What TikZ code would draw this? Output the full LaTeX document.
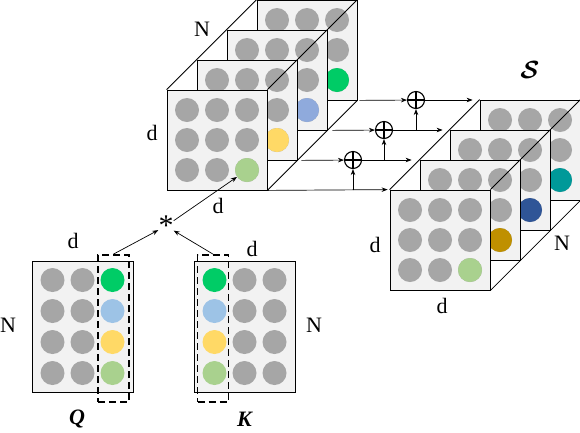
\documentclass[tikz,border=0pt]{standalone}
\usepackage{fontspec}
\setmainfont{Liberation Serif}
\usepackage{amsmath}
\usepackage{bm}
\usetikzlibrary{arrows.meta, positioning}
\definecolor{slicefill}{HTML}{F2F2F2}
\definecolor{dotgray}{HTML}{A6A6A6}
\definecolor{dotgreen}{HTML}{00CC66}
\definecolor{dotlblue}{HTML}{9DC3E6}
\definecolor{dotblue}{HTML}{8FAADC}
\definecolor{dotyellow}{HTML}{FFD966}
\definecolor{dotlgreen}{HTML}{A9D18E}
\definecolor{dotgold}{HTML}{BF9000}
\definecolor{dotnavy}{HTML}{2F5597}
\definecolor{dotteal}{HTML}{009999}

\begin{document}
\begin{tikzpicture}[x=1pt, y=-1pt,
  slice/.style={
    rectangle, draw=black, line width=0.8pt, fill=slicefill,
    minimum size=100pt, inner sep=0pt},
  mat/.style={
    rectangle, draw=black, line width=0.6pt, fill=slicefill,
    minimum width=101pt, minimum height=131pt, inner sep=0pt},
  dot/.style={circle, fill=dotgray, minimum size=24pt, inner sep=0pt},
  colbox/.style={
    rectangle, draw=black, line width=1.8pt, dash pattern=on 7pt off 4pt,
    minimum width=31pt, minimum height=147pt, inner sep=0pt},
  sumop/.style={
    circle, draw=black, line width=1.1pt, minimum size=17pt, inner sep=0pt,
    path picture={\draw[line width=1.1pt]
      (path picture bounding box.north) -- (path picture bounding box.south)
      (path picture bounding box.west) -- (path picture bounding box.east);}},
  flow/.style={-{Stealth[length=6pt, width=4.5pt]}, line width=0.7pt},
  wire/.style={line width=0.8pt},
  lbl/.style={font=\fontsize{22}{24}\selectfont, inner sep=1pt},
]
  \useasboundingbox (0,0) rectangle (580,432);

  % Input stack
  \foreach \k/\c in {4/dotgreen, 3/dotblue, 2/dotyellow, 1/dotlgreen} {
    \node[slice] (in\k) at ({217+30*(\k-1)}, {140-30*(\k-1)}) {};
    \foreach \i in {1,2,3}
      \foreach \j in {1,2,3}
        \node[dot] (in\k-\i\j) at ([shift={({30*(\i-2)},{30*(\j-2)})}]in\k) {};
    \node[dot, fill=\c] (in\k-c) at ([shift={(30,30)}]in\k) {};
  }
  \draw[wire] (in1.north west) -- (in4.north west)
    (in1.north east) -- (in4.north east)
    (in1.south east) -- (in4.south east);
  \node[lbl] (inN) at (202,29) {N};
  \node[lbl] (ind) at (152,133) {d};

  % Output stack
  \foreach \k/\c in {4/dotteal, 3/dotnavy, 2/dotgold, 1/dotlgreen} {
    \node[slice] (out\k) at ({440+30*(\k-1)}, {240-30*(\k-1)}) {};
    \foreach \i in {1,2,3}
      \foreach \j in {1,2,3}
        \node[dot] (out\k-\i\j) at ([shift={({30*(\i-2)},{30*(\j-2)})}]out\k) {};
    \node[dot, fill=\c] (out\k-c) at ([shift={(30,30)}]out\k) {};
  }
  \draw[wire] (out1.north west) -- (out4.north west)
    (out1.north east) -- (out4.north east)
    (out1.south east) -- (out4.south east);
  \node[lbl] (outdl) at (375,245) {d};
  \node[lbl] (outN) at (562,243) {N};
  \node[lbl] (outdb) at (442,306) {d};
  \node[font=\fontsize{28}{30}\selectfont] (S) at (530,70) {$\bm{\mathcal{S}}$};

  % Running sum
  \node[sumop] (p1) at (353,160) {};
  \node[sumop] (p2) at (384,130) {};
  \node[sumop] (p3) at (416,100) {};

  \draw[flow, shorten >=2pt] (in1.south east) -- (out1.north west);
  \draw[flow, shorten <=4pt] (in2.south east) -- (p1);
  \draw[flow, shorten >=8pt] (p1) -- (p1 -| out2.north west);
  \draw[flow] (in1.south east -| p1) -- (p1);
  \draw[flow, shorten <=5pt] (in3.south east) -- (p2);
  \draw[flow, shorten >=7pt] (p2) -- (p2 -| out3.north west);
  \draw[flow] (p1 -| p2) -- (p2);
  \draw[flow, shorten <=2pt] (in4.south east) -- (p3);
  \draw[flow, shorten >=7pt] (p3) -- (p3 -| out4.north west);
  \draw[flow] (p2 -| p3) -- (p3);

  % Q and K
  \node[mat] (Q) at (82.5,326.5) {};
  \node[mat] (K) at (244.5,326.5) {};
  \foreach \r/\c in {1/dotgreen, 2/dotlblue, 3/dotyellow, 4/dotlgreen} {
    \node[dot] (Q-\r1) at ([shift={(-30,{31*\r-77.5})}]Q) {};
    \node[dot] (Q-\r2) at ([shift={(0,{31*\r-77.5})}]Q) {};
    \node[dot, fill=\c] (Q-\r3) at ([shift={(30,{31*\r-77.5})}]Q) {};
    \node[dot, fill=\c] (K-\r1) at ([shift={(-30,{31*\r-77.5})}]K) {};
    \node[dot] (K-\r2) at ([shift={(0,{31*\r-77.5})}]K) {};
    \node[dot] (K-\r3) at ([shift={(30,{31*\r-77.5})}]K) {};
  }
  \node[colbox] (qcol) at (113.5,328.5) {};
  \node[colbox] (kcol) at (213,328.5) {};

  \node[lbl] (Qd) at (73,241) {d};
  \node[lbl] (QN) at (8,325) {N};
  \node[lbl] (Kd) at (252,249) {d};
  \node[lbl] (KN) at (314,325) {N};
  \node[lbl] (Qname) at (77,419) {\textbf{\textit{Q}}};
  \node[lbl] (Kname) at (245,419) {\textbf{\textit{K}}};

  % Product
  \node[font=\fontsize{30}{32}\selectfont, inner sep=0pt] (star) at (166,226) {*};
  \draw[flow] (qcol.north) -- (star);
  \draw[flow] (kcol.north) -- (star);
  \draw[flow] (star) -- (in1-c);
  \node[lbl] (stard) at (218,206) {d};
\end{tikzpicture}
\end{document}
